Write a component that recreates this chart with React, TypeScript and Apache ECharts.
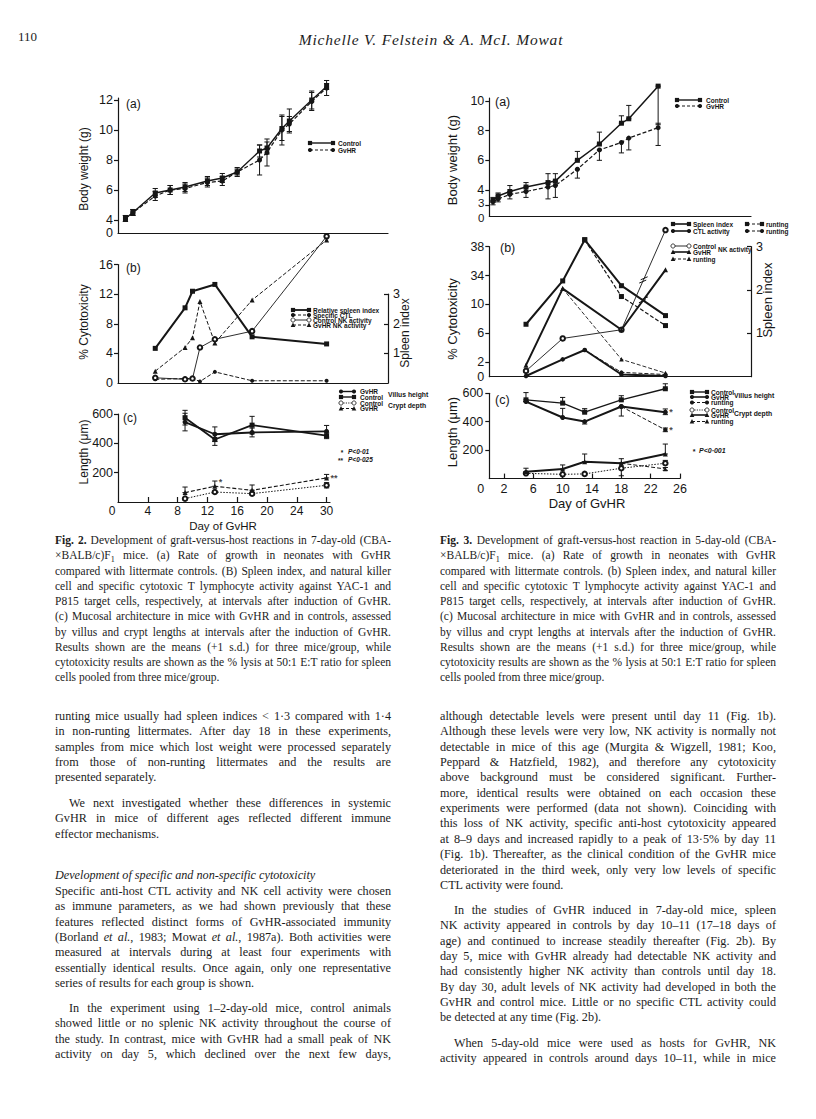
import React, { useEffect, useRef } from "react";
import * as echarts from "echarts";

// ================= Fig. 2 (7-day-old mice) =================
const fig2aDays = [1, 2, 5, 7, 9, 12, 14, 16, 19, 20, 22, 23, 26, 30];
const fig2aControl = [4.1, 4.5, 5.8, 6.0, 6.2, 6.6, 6.8, 7.2, 8.6, 8.8, 10.1, 10.6, 12.0, 12.9];
const fig2aControlSD = [0.2, 0.2, 0.3, 0.3, 0.3, 0.3, 0.3, 0.3, 0.4, 0.4, 0.8, 0.8, 0.6, 0.2];
const fig2aGvhr = [4.1, 4.5, 5.6, 6.0, 6.1, 6.5, 6.6, 7.2, 8.0, 8.5, 10.0, 10.4, 11.9, 12.8];
const fig2aGvhrSD = [0.2, 0.2, 0.3, 0.3, 0.3, 0.3, 0.3, 0.2, 1.0, 0.9, 1.0, 0.5, 0.6, 0.5];

const fig2bSpleenDays = [5, 9, 10, 13, 18, 30];
const fig2bSpleenIndex = [1.17, 2.54, 3.1, 3.33, 1.56, 1.32];
const fig2bCtlDays = [5, 9, 10, 11, 13, 18, 30];
const fig2bCtl = [0.5, 0.6, 0.6, 0.2, 1.5, 0.3, 0.3];
const fig2bNkDays = [5, 9, 10, 11, 13, 18, 30];
const fig2bNkControl = [0.7, 0.5, 0.6, 4.8, 5.9, 7.0, 19.8];
const fig2bNkGvhr = [1.6, 4.8, 6.1, 11.0, 5.4, 11.2, 19.3];

const fig2cDays = [9, 13, 18, 30];
const fig2cVillusGvhr = [545, 462, 474, 482];
const fig2cVillusGvhrSD = [60, 50, 30, 40];
const fig2cVillusControl = [575, 426, 524, 452];
const fig2cVillusControlSD = [50, 40, 60, 20];
const fig2cCryptControl = [23, 68, 57, 114];
const fig2cCryptControlSD = [0, 0, 0, 18];
const fig2cCryptGvhr = [64, 107, 80, 164];
const fig2cCryptGvhrSD = [38, 36, 36, 24];
const fig2cSigDays = [13, 30];
const fig2cSigValues = [137, 166];
const fig2cSigMarks = ["*", "**"];

const fig2XTickLabels = ["0", "4", "8", "12", "16", "20", "24", "30"];

// ================= Fig. 3 (5-day-old mice) =================
const fig3aDays = [0.5, 1.2, 2.8, 5, 8, 9, 12, 15, 18, 19, 23];
const fig3aControl = [3.3, 3.6, 3.9, 4.2, 4.5, 4.6, 6.0, 7.1, 8.5, 8.8, 11.0];
const fig3aControlLow = [3.3, 3.6, 3.9, 4.2, 4.5, 4.6, 6.0, 7.1, 8.5, 8.8, 8.4];
const fig3aControlHigh = [3.5, 3.8, 4.3, 4.5, 5.1, 5.1, 6.6, 7.9, 9.0, 9.7, 11.0];
const fig3aGvhr = [3.2, 3.4, 3.7, 3.9, 4.2, 4.3, 5.4, 6.7, 7.2, 7.5, 8.2];
const fig3aGvhrLow = [3.0, 3.2, 3.4, 3.5, 3.4, 3.5, 4.8, 6.0, 6.5, 6.7, 7.0];
const fig3aGvhrHigh = [3.2, 3.4, 3.7, 3.9, 4.2, 4.3, 5.4, 6.7, 7.2, 7.5, 8.5];

const fig3bSpleenDays = [5, 10, 13, 18, 24];
const fig3bSpleen = [1.21, 2.21, 3.16, 2.1, 1.41];
const fig3bSpleenRuntDays = [13, 18, 24];
const fig3bSpleenRunt = [3.16, 1.85, 1.18];
const fig3bCtlDays = [5, 10, 13, 18, 24];
const fig3bCtl = [0.1, 2.4, 3.7, 0.3, 0.1];
const fig3bCtlRuntDays = [13, 18, 24];
const fig3bCtlRunt = [3.7, 0.6, 0.3];
const fig3bNkDays = [5, 10, 18, 24];
const fig3bNkControl = [0.8, 5.3, 6.5, 40.3];
const fig3bNkGvhr = [1.6, 12.2, 6.5, 34.8];
const fig3bNkRuntDays = [10, 18, 24];
const fig3bNkRunt = [12.2, 2.4, 0.5];
const fig3bYTickLabels = ["0", "2", "6", "10", "34", "38"];

const fig3cDays = [5, 10, 13, 18, 24];
const fig3cVillusControl = [554, 531, 467, 554, 632];
const fig3cVillusControlHigh = [605, 571, 492, 583, 667];
const fig3cVillusGvhr = [542, 430, 401, 507, 467];
const fig3cVillusGvhrLow = [542, 430, 384, 440, 450];
const fig3cVillusGvhrHigh = [542, 494, 401, 507, 490];
const fig3cRuntDays = [18, 24];
const fig3cVillusRunt = [507, 343];
const fig3cVillusRuntLow = [507, 330];
const fig3cVillusRuntHigh = [507, 356];
const fig3cCryptControl = [37, 30, 33, 73, 108];
const fig3cCryptControlLow = [37, 30, 33, 20, 108];
const fig3cCryptControlHigh = [37, 30, 33, 73, 128];
const fig3cCryptGvhr = [49, 68, 119, 108, 173];
const fig3cCryptGvhrHigh = [73, 96, 173, 140, 243];
const fig3cCryptRunt = [108, 68];
const fig3cCryptRuntLow = [108, 58];
const fig3cCryptRuntHigh = [108, 78];
const fig3cSigDays = [24, 24];
const fig3cSigValues = [467, 343];
const fig3cSigMarks = ["*", "*"];

// ================= Page text =================
const runningHead = "Michelle V. Felstein &amp; A. McI. Mowat";
const pageNumber = "110";

const captionFig2 = [
  "<b>Fig. 2.</b> Development of graft-versus-host reactions in 7-day-old (CBA-",
  "×BALB/c)F<sub style=\"font-size:70%;line-height:0\">1</sub> mice. (a) Rate of growth in neonates with GvHR",
  "compared with littermate controls. (B) Spleen index, and natural killer",
  "cell and specific cytotoxic T lymphocyte activity against YAC-1 and",
  "P815 target cells, respectively, at intervals after induction of GvHR.",
  "(c) Mucosal architecture in mice with GvHR and in controls, assessed",
  "by villus and crypt lengths at intervals after the induction of GvHR.",
  "Results shown are the means (+1 s.d.) for three mice/group, while",
  "cytotoxicity results are shown as the % lysis at 50:1 E:T ratio for spleen",
  "cells pooled from three mice/group.",
];
const captionFig3 = [
  "<b>Fig. 3.</b> Development of graft-versus-host reaction in 5-day-old (CBA-",
  "×BALB/c)F<sub style=\"font-size:70%;line-height:0\">1</sub> mice. (a) Rate of growth in neonates with GvHR",
  "compared with littermate controls. (b) Spleen index, and natural killer",
  "cell and specific cytotoxic T lymphocyte activity against YAC-1 and",
  "P815 target cells, respectively, at intervals after induction of GvHR.",
  "(c) Mucosal architecture in mice with GvHR and in controls, assessed",
  "by villus and crypt lengths at intervals after the induction of GvHR.",
  "Results shown are the means (+1 s.d.) for three mice/group, while",
  "cytotoxicity results are shown as the % lysis at 50:1 E:T ratio for spleen",
  "cells pooled from three mice/group.",
];

const leftParaA = [
  "runting mice usually had spleen indices &lt; 1·3 compared with 1·4",
  "in non-runting littermates. After day 18 in these experiments,",
  "samples from mice which lost weight were processed separately",
  "from those of non-runting littermates and the results are",
  "presented separately.",
];
const leftParaB = [
  "We next investigated whether these differences in systemic",
  "GvHR in mice of different ages reflected different immune",
  "effector mechanisms.",
];
const leftHeading = ["<i>Development of specific and non-specific cytotoxicity</i>"];
const leftParaC = [
  "Specific anti-host CTL activity and NK cell activity were chosen",
  "as immune parameters, as we had shown previously that these",
  "features reflected distinct forms of GvHR-associated immunity",
  "(Borland <i>et al.</i>, 1983; Mowat <i>et al.</i>, 1987a). Both activities were",
  "measured at intervals during at least four experiments with",
  "essentially identical results. Once again, only one representative",
  "series of results for each group is shown.",
];
const leftParaD = [
  "In the experiment using 1–2-day-old mice, control animals",
  "showed little or no splenic NK activity throughout the course of",
  "the study. In contrast, mice with GvHR had a small peak of NK",
  "activity on day 5, which declined over the next few days,",
];
const rightParaE = [
  "although detectable levels were present until day 11 (Fig. 1b).",
  "Although these levels were very low, NK activity is normally not",
  "detectable in mice of this age (Murgita &amp; Wigzell, 1981; Koo,",
  "Peppard &amp; Hatzfield, 1982), and therefore any cytotoxicity",
  "above background must be considered significant. Further-",
  "more, identical results were obtained on each occasion these",
  "experiments were performed (data not shown). Coinciding with",
  "this loss of NK activity, specific anti-host cytotoxicity appeared",
  "at 8–9 days and increased rapidly to a peak of 13·5% by day 11",
  "(Fig. 1b). Thereafter, as the clinical condition of the GvHR mice",
  "deteriorated in the third week, only very low levels of specific",
  "CTL activity were found.",
];
const rightParaF = [
  "In the studies of GvHR induced in 7-day-old mice, spleen",
  "NK activity appeared in controls by day 10–11 (17–18 days of",
  "age) and continued to increase steadily thereafter (Fig. 2b). By",
  "day 5, mice with GvHR already had detectable NK activity and",
  "had consistently higher NK activity than controls until day 18.",
  "By day 30, adult levels of NK activity had developed in both the",
  "GvHR and control mice. Little or no specific CTL activity could",
  "be detected at any time (Fig. 2b).",
];
const rightParaG = [
  "When 5-day-old mice were used as hosts for GvHR, NK",
  "activity appeared in controls around days 10–11, while in mice",
];

// ================= helpers =================
const INK = "#161616";
const SANS = '"Liberation Sans", Arial, sans-serif';
const DASH = [4, 2];
const id = (v: number) => v;
// Fig. 2 day axis is drawn with equal steps 0..24 and then "30" one step later
const fig2X = (d: number) => (d === 30 ? 28 : d);
// Fig. 3(b) cytotoxicity axis is broken between 10 and 34
const fig3bY = (v: number) => (v > 20 ? v - 20 : v);

const pts = (xs: number[], ys: number[], fx = id, fy = id) => xs.map((x, i) => [fx(x), fy(ys[i])]);

function lineSeries(xi: number, yi: number, data: number[][], symbol: string, width: number, dash: any, size = 5) {
  return {
    type: "line",
    xAxisIndex: xi,
    yAxisIndex: yi,
    data,
    symbol,
    symbolSize: size,
    clip: false,
    z: 4,
    lineStyle: { color: INK, width, type: dash || "solid" },
    itemStyle: { color: INK, borderColor: INK, borderWidth: symbol === "emptyCircle" ? 1 : 0 },
    emphasis: { disabled: true },
  };
}

function errorSeries(xi: number, yi: number, xs: number[], lows: number[], highs: number[], fx = id) {
  return {
    type: "custom",
    xAxisIndex: xi,
    yAxisIndex: yi,
    clip: false,
    z: 3,
    silent: true,
    data: xs.map((x, i) => [fx(x), lows[i], highs[i]]),
    renderItem: (_p: any, api: any) => {
      const lo = api.coord([api.value(0), api.value(1)]);
      const hi = api.coord([api.value(0), api.value(2)]);
      const w = 2.6;
      const st = { stroke: INK, lineWidth: 1 };
      return {
        type: "group",
        children: [
          { type: "line", shape: { x1: lo[0], y1: lo[1], x2: hi[0], y2: hi[1] }, style: st },
          { type: "line", shape: { x1: hi[0] - w, y1: hi[1], x2: hi[0] + w, y2: hi[1] }, style: st },
          { type: "line", shape: { x1: lo[0] - w, y1: lo[1], x2: lo[0] + w, y2: lo[1] }, style: st },
        ],
      };
    },
  };
}

// "//" break marks drawn across the last segment of a broken-axis line
function breakMarkSeries(xi: number, yi: number, xs: number[], ys: number[], fy = id) {
  const n = xs.length;
  return {
    type: "custom",
    xAxisIndex: xi,
    yAxisIndex: yi,
    clip: false,
    z: 5,
    silent: true,
    data: [[xs[n - 2], fy(ys[n - 2]), xs[n - 1], fy(ys[n - 1])]],
    renderItem: (_p: any, api: any) => {
      const a = api.coord([api.value(0), api.value(1)]);
      const b = api.coord([api.value(2), api.value(3)]);
      const mx = (a[0] + b[0]) / 2;
      const my = (a[1] + b[1]) / 2;
      const dx = b[0] - a[0];
      const dy = b[1] - a[1];
      const len = Math.sqrt(dx * dx + dy * dy);
      const ux = dx / len;
      const uy = dy / len;
      const st = { stroke: INK, lineWidth: 1 };
      const mk = (o: number) => ({
        type: "line",
        shape: { x1: mx + ux * o - 3.5, y1: my + uy * o + 1.5, x2: mx + ux * o + 3.5, y2: my + uy * o - 1.5 },
        style: st,
      });
      return { type: "group", children: [mk(-1.8), mk(1.8)] };
    },
  };
}

function sigSeries(xi: number, yi: number, xs: number[], ys: number[], marks: string[], fx = id) {
  return {
    type: "scatter",
    xAxisIndex: xi,
    yAxisIndex: yi,
    symbolSize: 0,
    clip: false,
    silent: true,
    data: xs.map((x, i) => ({ value: [fx(x), ys[i]], label: { formatter: marks[i] } })),
    label: { show: true, position: "right", distance: 4, color: INK, fontFamily: SANS, fontSize: 9, fontWeight: "bold" },
  };
}

function symEl(sym: string, cx: number, cy: number, s = 2.1) {
  const style = { fill: sym === "empty" ? "#fff" : INK, stroke: INK, lineWidth: sym === "empty" ? 0.8 : 0 };
  if (sym === "rect") return { type: "rect", shape: { x: cx - s, y: cy - s, width: 2 * s, height: 2 * s }, style, z: 20 };
  if (sym === "tri")
    return { type: "polygon", shape: { points: [[cx, cy - s - 0.4], [cx - s - 0.2, cy + s], [cx + s + 0.2, cy + s]] }, style, z: 20 };
  return { type: "circle", shape: { cx, cy, r: s }, style, z: 20 };
}

function txt(text: string, x: number, y: number, font: string, align = "left", rotation = 0) {
  return {
    type: "text",
    x,
    y,
    rotation,
    z: 20,
    silent: true,
    style: { text, font, fill: INK, align, verticalAlign: "middle", textAlign: align, textVerticalAlign: "middle" },
  };
}

const LEG_FONT = `bold 6.5px ${SANS}`;
function legendRow(x1: number, x2: number, y: number, sym: string, dash: any, width: number, label: string, tx: number) {
  return [
    { type: "line", shape: { x1, y1: y, x2, y2: y }, style: { stroke: INK, lineWidth: width, lineDash: dash || null }, z: 19, silent: true },
    symEl(sym, x1, y),
    symEl(sym, x2, y),
    txt(label, tx, y, LEG_FONT),
  ];
}

const vTitle = (t: string, x: number, y: number, size: number) => txt(t, x, y, `${size}px ${SANS}`, "center", Math.PI / 2);
const hTitle = (t: string, x: number, y: number, size: number) => txt(t, x, y, `${size}px ${SANS}`, "center");

const LBL = { color: INK, fontFamily: SANS, fontSize: 12.5 };
const axLine = { show: true, onZero: false, lineStyle: { color: INK, width: 1.2 } };
const noSplit = { show: false };

function bareX(gridIndex: number, max: number, show = true) {
  return {
    gridIndex,
    type: "value",
    min: 0,
    max,
    axisLine: { ...axLine, show },
    axisTick: { show: false },
    axisLabel: { show: false },
    splitLine: noSplit,
  };
}

function buildOption() {
  const D = DASH;
  const series: any[] = [
    // ---- Fig 2a
    errorSeries(0, 0, fig2aDays, fig2aControl.map((v, i) => v - fig2aControlSD[i]), fig2aControl.map((v, i) => v + fig2aControlSD[i]), fig2X),
    errorSeries(0, 0, fig2aDays, fig2aGvhr.map((v, i) => v - fig2aGvhrSD[i]), fig2aGvhr.map((v, i) => v + fig2aGvhrSD[i]), fig2X),
    lineSeries(0, 0, pts(fig2aDays, fig2aControl, fig2X), "rect", 1.4, null, 5),
    lineSeries(0, 0, pts(fig2aDays, fig2aGvhr, fig2X), "circle", 1.2, D, 5),
    // ---- Fig 2b
    lineSeries(2, 2, pts(fig2bSpleenDays, fig2bSpleenIndex, fig2X), "rect", 2, null, 5),
    lineSeries(1, 1, pts(fig2bCtlDays, fig2bCtl, fig2X), "circle", 1, D, 4),
    lineSeries(1, 1, pts(fig2bNkDays, fig2bNkControl, fig2X), "emptyCircle", 0.9, null, 4.5),
    lineSeries(1, 1, pts(fig2bNkDays, fig2bNkGvhr, fig2X), "triangle", 1, D, 5),
    // ---- Fig 2c
    errorSeries(3, 3, fig2cDays, fig2cVillusGvhr.map((v, i) => v - fig2cVillusGvhrSD[i]), fig2cVillusGvhr.map((v, i) => v + fig2cVillusGvhrSD[i]), fig2X),
    errorSeries(3, 3, fig2cDays, fig2cVillusControl.map((v, i) => v - fig2cVillusControlSD[i]), fig2cVillusControl.map((v, i) => v + fig2cVillusControlSD[i]), fig2X),
    errorSeries(3, 3, fig2cDays, fig2cCryptGvhr, fig2cCryptGvhr.map((v, i) => v + fig2cCryptGvhrSD[i]), fig2X),
    errorSeries(3, 3, fig2cDays, fig2cCryptControl.map((v, i) => v - fig2cCryptControlSD[i]), fig2cCryptControl.map((v, i) => v + fig2cCryptControlSD[i]), fig2X),
    lineSeries(3, 3, pts(fig2cDays, fig2cVillusGvhr, fig2X), "circle", 1.8, null, 5),
    lineSeries(3, 3, pts(fig2cDays, fig2cVillusControl, fig2X), "rect", 1.8, null, 5),
    lineSeries(3, 3, pts(fig2cDays, fig2cCryptControl, fig2X), "emptyCircle", 1, [1.5, 1.5], 4.5),
    lineSeries(3, 3, pts(fig2cDays, fig2cCryptGvhr, fig2X), "triangle", 1.1, D, 5),
    sigSeries(3, 3, fig2cSigDays, fig2cSigValues, fig2cSigMarks, fig2X),
    // ---- Fig 3a
    errorSeries(4, 4, fig3aDays, fig3aControlLow, fig3aControlHigh),
    errorSeries(4, 4, fig3aDays, fig3aGvhrLow, fig3aGvhrHigh),
    lineSeries(4, 4, pts(fig3aDays, fig3aControl), "rect", 1.5, null, 5),
    lineSeries(4, 4, pts(fig3aDays, fig3aGvhr), "circle", 1.2, D, 5),
    // ---- Fig 3b
    lineSeries(5, 6, pts(fig3bSpleenDays, fig3bSpleen), "rect", 2, null, 5),
    lineSeries(5, 6, pts(fig3bSpleenRuntDays, fig3bSpleenRunt), "rect", 1.2, D, 5),
    lineSeries(5, 5, pts(fig3bCtlDays, fig3bCtl, id, fig3bY), "circle", 2, null, 4.5),
    lineSeries(5, 5, pts(fig3bCtlRuntDays, fig3bCtlRunt, id, fig3bY), "circle", 1, D, 4),
    lineSeries(5, 5, pts(fig3bNkDays, fig3bNkControl, id, fig3bY), "emptyCircle", 0.9, null, 4.5),
    lineSeries(5, 5, pts(fig3bNkDays, fig3bNkGvhr, id, fig3bY), "triangle", 2, null, 5),
    lineSeries(5, 5, pts(fig3bNkRuntDays, fig3bNkRunt, id, fig3bY), "triangle", 0.9, D, 4.5),
    breakMarkSeries(5, 5, fig3bNkDays, fig3bNkControl, fig3bY),
    breakMarkSeries(5, 5, fig3bNkDays, fig3bNkGvhr, fig3bY),
    // ---- Fig 3c
    errorSeries(6, 7, fig3cDays, fig3cVillusControl, fig3cVillusControlHigh),
    errorSeries(6, 7, fig3cDays, fig3cVillusGvhrLow, fig3cVillusGvhrHigh),
    errorSeries(6, 7, fig3cRuntDays, fig3cVillusRuntLow, fig3cVillusRuntHigh),
    errorSeries(6, 7, fig3cDays, fig3cCryptControlLow, fig3cCryptControlHigh),
    errorSeries(6, 7, fig3cDays, fig3cCryptGvhr, fig3cCryptGvhrHigh),
    errorSeries(6, 7, fig3cRuntDays, fig3cCryptRuntLow, fig3cCryptRuntHigh),
    lineSeries(6, 7, pts(fig3cDays, fig3cVillusControl), "rect", 1.3, null, 5),
    lineSeries(6, 7, pts(fig3cDays, fig3cVillusGvhr), "circle", 2, null, 5),
    lineSeries(6, 7, pts(fig3cRuntDays, fig3cVillusRunt), "circle", 1, D, 4.5),
    lineSeries(6, 7, pts(fig3cDays, fig3cCryptControl), "emptyCircle", 1, [1.5, 1.5], 4.5),
    lineSeries(6, 7, pts(fig3cDays, fig3cCryptGvhr), "triangle", 2, null, 5),
    lineSeries(6, 7, pts(fig3cRuntDays, fig3cCryptRunt), "triangle", 1, D, 4.5),
    sigSeries(6, 7, fig3cSigDays, fig3cSigValues, fig3cSigMarks),
  ];

  const fig2aMin = 3.133;
  const fig3aMin = 2.247;

  const xAxis: any[] = [
    bareX(0, 36.24),
    bareX(1, 36.24),
    bareX(2, 36.24, false),
    {
      gridIndex: 3,
      type: "value",
      min: 0,
      max: 28.46,
      axisLine: axLine,
      axisTick: { show: true, inside: true, length: 5, customValues: [4, 8, 12, 16, 20, 24, 28], lineStyle: { color: INK, width: 1.2 } },
      axisLabel: {
        ...LBL,
        fontSize: 12,
        margin: 3,
        customValues: [0, 4, 8, 12, 16, 20, 24, 28],
        formatter: (v: number) => (v === 0 ? "{z|0}" : fig2XTickLabels[Math.round(v / 4)]),
        rich: { z: { ...LBL, fontSize: 12, padding: [0, 12, 0, 0] } },
      },
      splitLine: noSplit,
    },
    bareX(4, 35.65),
    bareX(5, 35.65),
    {
      gridIndex: 6,
      type: "value",
      min: 0,
      max: 26,
      axisLine: axLine,
      axisTick: { show: true, inside: true, length: 5, customValues: [2, 6, 10, 14, 18, 22, 26], lineStyle: { color: INK, width: 1.2 } },
      axisLabel: {
        ...LBL,
        margin: 4,
        customValues: [0, 2, 6, 10, 14, 18, 22, 26],
        formatter: (v: number) => (v === 0 ? "{z|0}" : String(v)),
        rich: { z: { ...LBL, padding: [0, 17, 0, 0] } },
      },
      splitLine: noSplit,
    },
  ];

  const tick = (vals: number[], inside = false) => ({ show: true, inside, length: 4, customValues: vals, lineStyle: { color: INK, width: 1.2 } });

  const yAxis: any[] = [
    {
      gridIndex: 0, type: "value", min: fig2aMin, max: 12.133,
      axisLine: axLine, axisTick: tick([4, 6, 8, 10, 12]), splitLine: noSplit,
      axisLabel: { ...LBL, margin: 5, showMinLabel: true, customValues: [fig2aMin, 4, 6, 8, 10, 12], formatter: (v: number) => (v < 3.5 ? "0" : String(v)) },
    },
    {
      gridIndex: 1, type: "value", min: 0, max: 16, interval: 4,
      axisLine: axLine, axisTick: tick([4, 8, 12, 16]), splitLine: noSplit,
      axisLabel: { ...LBL, margin: 5 },
    },
    {
      gridIndex: 2, type: "value", min: 0, max: 3, position: "right",
      axisLine: axLine, axisTick: tick([1, 2, 3], true), splitLine: noSplit,
      axisLabel: { ...LBL, margin: 5, customValues: [1, 2, 3] },
    },
    {
      gridIndex: 3, type: "value", min: 0, max: 600, interval: 200,
      axisLine: axLine, axisTick: tick([200, 400, 600]), splitLine: noSplit,
      axisLabel: { ...LBL, margin: 5, customValues: [200, 400, 600] },
    },
    {
      gridIndex: 4, type: "value", min: fig3aMin, max: 10.2,
      axisLine: axLine, axisTick: tick([3, 4, 6, 8, 10]), splitLine: noSplit,
      axisLabel: {
        ...LBL, margin: 5, customValues: [3, 4, 6, 8, 10],
        formatter: (v: number) => (v === 3 ? "{s|3}" : String(v)),
        rich: { s: { ...LBL, fontSize: 11.5, padding: [0, 0, 4, 0] } },
      },
    },
    {
      gridIndex: 5, type: "value", min: 0, max: 18,
      axisLine: axLine, axisTick: tick([2, 6, 10, 14, 18]), splitLine: noSplit,
      axisLabel: {
        ...LBL, margin: 5, showMinLabel: true, customValues: [0, 2, 6, 10, 14, 18],
        formatter: (v: number) => fig3bYTickLabels[[0, 2, 6, 10, 14, 18].indexOf(v)],
      },
    },
    {
      gridIndex: 5, type: "value", min: 0, max: 3, position: "right",
      axisLine: axLine, axisTick: tick([1, 2, 3], true), splitLine: noSplit,
      axisLabel: { ...LBL, margin: 5, customValues: [1, 2, 3] },
    },
    {
      gridIndex: 6, type: "value", min: 0, max: 600, interval: 200,
      axisLine: axLine, axisTick: tick([200, 400, 600]), splitLine: noSplit,
      axisLabel: { ...LBL, margin: 6, customValues: [200, 400, 600] },
    },
  ];

  const grid = [
    { left: 118, top: 98, width: 270, height: 135 },
    { left: 118, top: 264.5, width: 270, height: 118.5 },
    { left: 118, top: 294.2, width: 270, height: 88.8 },
    { left: 118, top: 414, width: 212, height: 88 },
    { left: 489.3, top: 98, width: 261.7, height: 118 },
    { left: 489.3, top: 246.7, width: 261.7, height: 130 },
    { left: 489.3, top: 393.3, width: 190.7, height: 85.3 },
  ];

  const thinDash = [3, 2];
  const graphic: any[] = [
    // ---- Fig 2 titles
    vTitle("Body weight (g)", 84, 169, 12),
    vTitle("% Cytotoxicity", 84, 322, 12),
    vTitle("Length (μm)", 84, 452, 12),
    vTitle("Spleen index", 405, 333, 12),
    hTitle("Day of GvHR", 223, 525.5, 11.5),
    txt("(a)", 126, 104, `12px ${SANS}`),
    txt("(b)", 126, 268, `12px ${SANS}`),
    txt("(c)", 123, 418, `12px ${SANS}`),
    ...legendRow(310, 333, 143, "rect", null, 1.4, "Control", 338),
    ...legendRow(310, 333, 150, "circle", thinDash, 1.1, "GvHR", 338),
    ...legendRow(293, 309, 310, "rect", null, 1.8, "Relative spleen index", 313),
    ...legendRow(293, 309, 315, "circle", thinDash, 1, "Specific CTL", 313),
    ...legendRow(293, 309, 320, "empty", null, 0.9, "Control NK activity", 313),
    ...legendRow(293, 309, 325, "tri", thinDash, 1, "GvHR NK activity", 313),
    ...legendRow(341, 354, 391.5, "circle", null, 1.4, "GvHR", 360),
    ...legendRow(341, 354, 397, "rect", null, 1.4, "Control", 360),
    ...legendRow(341, 354, 403, "empty", [1.2, 1.2], 0.9, "Control", 360),
    ...legendRow(341, 354, 408.5, "tri", thinDash, 1, "GvHR", 360),
    txt("Villus height", 388, 394.5, `bold 6.8px ${SANS}`),
    txt("Crypt depth", 388, 405.5, `bold 6.8px ${SANS}`),
    txt("*", 342, 452.5, `bold 6.5px ${SANS}`, "center"),
    txt("P<0·01", 348, 451.5, `italic bold 6.5px ${SANS}`),
    txt("**", 340.5, 460, `bold 6.5px ${SANS}`, "center"),
    txt("P<0·025", 348, 459, `italic bold 6.5px ${SANS}`),
    // ---- Fig 3 titles
    vTitle("Body weight (g)", 452, 160, 13),
    vTitle("% Cytotoxicity", 452, 319, 13),
    vTitle("Length (μm)", 452, 432, 13),
    vTitle("Spleen index", 767, 300, 13),
    hTitle("Day of GvHR", 587, 503.5, 13),
    txt("0", 484.3, 217.8, `11.5px ${SANS}`, "right"),
    txt("(a)", 495, 102, `12.5px ${SANS}`),
    txt("(b)", 500, 248, `12.5px ${SANS}`),
    txt("(c)", 495, 400, `12.5px ${SANS}`),
    ...legendRow(677, 700, 100, "rect", null, 1.4, "Control", 706),
    ...legendRow(677, 700, 106, "circle", thinDash, 1.1, "GvHR", 706),
    ...legendRow(673, 689, 224, "rect", null, 1.6, "Spleen index", 693),
    ...legendRow(673, 689, 231, "circle", null, 1.6, "CTL activity", 693),
    ...legendRow(747, 762, 224, "rect", thinDash, 1, "runting", 766),
    ...legendRow(747, 762, 231, "circle", thinDash, 1, "runting", 766),
    ...legendRow(673, 689, 246, "empty", null, 0.9, "Control", 693),
    ...legendRow(673, 689, 252, "tri", null, 1.6, "GvHR", 693),
    ...legendRow(673, 689, 259, "tri", thinDash, 1, "runting", 693),
    txt("NK activity", 718, 249, LEG_FONT),
    ...legendRow(692, 707, 392, "rect", null, 1.4, "Control", 711),
    ...legendRow(692, 707, 397, "circle", null, 1.6, "GvHR", 711),
    ...legendRow(692, 707, 402.5, "circle", thinDash, 1, "runting", 711),
    ...legendRow(692, 707, 410, "empty", [1.2, 1.2], 0.9, "Control", 711),
    ...legendRow(692, 707, 415, "tri", null, 1.6, "GvHR", 711),
    ...legendRow(692, 707, 421.5, "tri", thinDash, 1, "runting", 711),
    txt("Villus height", 734, 395, `bold 6.8px ${SANS}`),
    txt("Crypt depth", 734, 413, `bold 6.8px ${SANS}`),
    txt("*", 694, 451, `bold 7px ${SANS}`, "center"),
    txt("P<0·001", 699, 450, `italic bold 7px ${SANS}`),
  ];

  return {
    animation: false,
    backgroundColor: "transparent",
    textStyle: { fontFamily: SANS, color: INK },
    grid,
    xAxis,
    yAxis,
    series,
    graphic: { elements: graphic },
  };
}

const SERIF = '"Liberation Serif", "Times New Roman", serif';
const LINE_STEP = 15.35;

function Para({ x, y0, lines, size, indent, lastLeft, step = LINE_STEP }: any) {
  return (
    <>
      {lines.map((h: string, i: number) => {
        const justify = !(lastLeft && i === lines.length - 1);
        const ind = indent && i === 0 ? 14 : 0;
        return (
          <div
            key={i}
            style={{
              position: "absolute",
              left: x + ind,
              top: y0 + i * step - 9,
              width: 336 - ind,
              fontFamily: SERIF,
              fontSize: size,
              lineHeight: "16px",
              color: "#1c1c1c",
              textAlign: justify ? "justify" : "left",
              textAlignLast: justify ? "justify" : "auto",
            } as any}
            dangerouslySetInnerHTML={{ __html: h }}
          />
        );
      })}
    </>
  );
}

export default function App() {
  const ref = useRef<HTMLDivElement>(null);
  useEffect(() => {
    if (!ref.current) return;
    const chart = echarts.init(ref.current, undefined, { renderer: "svg" });
    chart.setOption(buildOption() as any);
    return () => chart.dispose();
  }, []);

  return (
    <div style={{ position: "absolute", left: 0, top: 0, width: 816, height: 1119, background: "#fff", overflow: "hidden" }}>
      <div style={{ position: "absolute", left: 18, top: 29, fontFamily: SERIF, fontSize: 13, color: "#1c1c1c" }}>{pageNumber}</div>
      <div
        style={{ position: "absolute", left: 0, width: 862, top: 31, textAlign: "center", fontFamily: SERIF, fontStyle: "italic", fontSize: 15.5, letterSpacing: 0.8, color: "#1c1c1c" }}
        dangerouslySetInnerHTML={{ __html: runningHead }}
      />
      <Para x={55} y0={541} step={15.25} lines={captionFig2} size={11.5} lastLeft />
      <Para x={440} y0={541} step={15.25} lines={captionFig3} size={11.5} lastLeft />
      <Para x={55} y0={717} lines={leftParaA} size={12.2} lastLeft />
      <Para x={55} y0={804} lines={leftParaB} size={12.2} indent lastLeft />
      <Para x={55} y0={876} lines={leftHeading} size={12.2} lastLeft />
      <Para x={55} y0={892} lines={leftParaC} size={12.2} lastLeft />
      <Para x={55} y0={1009} lines={leftParaD} size={12.2} indent />
      <Para x={440} y0={717} lines={rightParaE} size={12.2} lastLeft />
      <Para x={440} y0={911} lines={rightParaF} size={12.2} indent lastLeft />
      <Para x={440} y0={1044} lines={rightParaG} size={12.2} indent />
      <div ref={ref} style={{ position: "absolute", left: 0, top: 0, width: 816, height: 1119 }} />
    </div>
  );
}
